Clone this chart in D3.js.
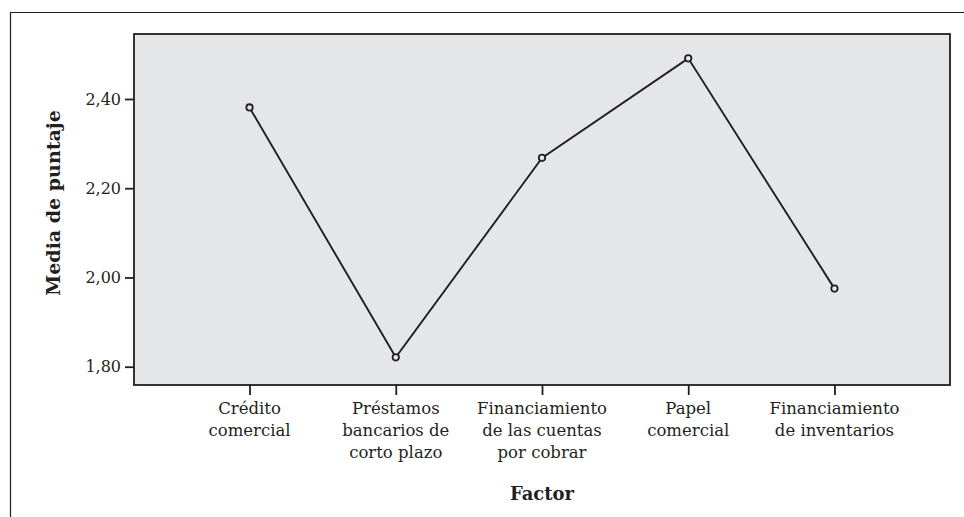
<!DOCTYPE html>
<html>
<head>
<meta charset="utf-8">
<script src="https://cdn.jsdelivr.net/npm/d3@7"></script>
<style>
  body { margin: 0; background: #fff; }
  text { font-family: "DejaVu Serif", serif; fill: #231f20; }
</style>
</head>
<body>
<div id="chart"></div>
<script>
// datos
const factores = [
    ["Crédito", "comercial"],
    ["Préstamos", "bancarios de", "corto plazo"],
    ["Financiamiento", "de las cuentas", "por cobrar"],
    ["Papel", "comercial"],
    ["Financiamiento", "de inventarios"]
];
const medias = [2.381, 1.821, 2.268, 2.491, 1.975];
const yTicks = [1.80, 2.00, 2.20, 2.40];

const width = 964, height = 517;
const margin = { top: 34, right: 14, bottom: 132, left: 134 };
const innerW = width - margin.left - margin.right;
const innerH = height - margin.top - margin.bottom;
const ink = "#231f20";

const svg = d3.select("#chart")
    .append("svg")
    .attr("width", width)
    .attr("height", height);

// marco exterior (arriba y a la izquierda)
svg.append("path")
    .attr("d", `M10.5,${height} V12.5 H${width}`)
    .attr("fill", "none")
    .attr("stroke", ink)
    .attr("stroke-width", 1.2);

const chart = svg.append("g")
    .attr("transform", `translate(${margin.left},${margin.top})`);

const x = d3.scalePoint()
    .domain(factores.map((d, i) => i))
    .range([0, innerW])
    .padding(0.79);

const y = d3.scaleLinear()
    .domain([1.759, 2.5456])
    .range([innerH, 0]);

chart.append("rect")
    .attr("width", innerW)
    .attr("height", innerH)
    .attr("fill", "#e5e6e8")
    .attr("stroke", ink)
    .attr("stroke-width", 1.8);

const fmt = d => d3.format(".2f")(d).replace(".", ",");

const yAxis = chart.append("g")
    .call(d3.axisLeft(y).tickValues(yTicks).tickSize(9).tickPadding(4).tickFormat(fmt));
yAxis.select(".domain").remove();
yAxis.selectAll("line").attr("stroke", ink).attr("stroke-width", 1.8);
yAxis.selectAll("text")
    .style("font-family", "DejaVu Serif, serif")
    .style("font-size", "16px")
    .attr("fill", ink);

const xAxis = chart.append("g")
    .attr("transform", `translate(0,${innerH})`)
    .call(d3.axisBottom(x).tickSize(10).tickFormat(""));
xAxis.select(".domain").remove();
xAxis.selectAll("line").attr("stroke", ink).attr("stroke-width", 1.8);

chart.selectAll(".xlabel")
    .data(factores)
    .enter()
    .append("text")
    .attr("class", "xlabel")
    .attr("text-anchor", "middle")
    .style("font-size", "16.5px")
    .attr("transform", (d, i) => `translate(${x(i)},${innerH + 29})`)
    .selectAll("tspan")
    .data(d => d)
    .enter()
    .append("tspan")
    .attr("x", 0)
    .attr("dy", (d, i) => i === 0 ? 0 : 22)
    .text(d => d);

const line = d3.line()
    .x((d, i) => x(i))
    .y(d => y(d));

chart.append("path")
    .datum(medias)
    .attr("d", line)
    .attr("fill", "none")
    .attr("stroke", ink)
    .attr("stroke-width", 1.9);

chart.selectAll(".punto")
    .data(medias)
    .enter()
    .append("circle")
    .attr("class", "punto")
    .attr("cx", (d, i) => x(i))
    .attr("cy", d => y(d))
    .attr("r", 3.2)
    .attr("fill", "#e5e6e8")
    .attr("stroke", ink)
    .attr("stroke-width", 1.8);

svg.append("text")
    .attr("transform", `translate(53,${203}) rotate(-90)`)
    .attr("dy", "0.35em")
    .attr("text-anchor", "middle")
    .style("font-size", "19px")
    .style("font-weight", "bold")
    .text("Media de puntaje");

svg.append("text")
    .attr("x", margin.left + x(2))
    .attr("y", 500)
    .attr("text-anchor", "middle")
    .style("font-size", "18px")
    .style("font-weight", "bold")
    .text("Factor");
</script>
</body>
</html>
